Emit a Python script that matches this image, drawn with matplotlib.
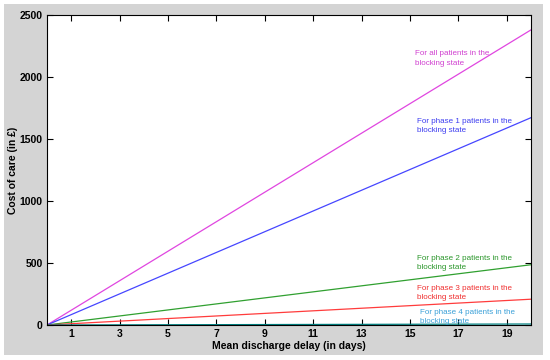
import numpy as np
import matplotlib.pyplot as plt
from matplotlib.patches import Rectangle

plt.rcParams['font.family'] = ['Liberation Sans', 'DejaVu Sans']

# mean discharge delay (days) and cost of care (GBP)
delay = [0, 20]
cost_all = [0, 2380]
cost_phase1 = [0, 1672]
cost_phase2 = [0, 486]
cost_phase3 = [0, 208]
cost_phase4 = [0, 8]

series = [
    (cost_all, '#e046e0', 'For all patients in the\nblocking state', '#d040d0', (15.2, 2215)),
    (cost_phase1, '#4646ff', 'For phase 1 patients in the\nblocking state', '#3c3cf0', (15.3, 1670)),
    (cost_phase2, '#30a030', 'For phase 2 patients in the\nblocking state', '#2a962a', (15.3, 565)),
    (cost_phase3, '#ff3c3c', 'For phase 3 patients in the\nblocking state', '#f03030', (15.3, 325)),
    (cost_phase4, '#008080', 'For phase 4 patients in the\nblocking state', '#3aa0d8', (15.4, 130)),
]

fig = plt.figure(figsize=(5.5, 3.6), dpi=100)
fig.patch.set_facecolor('white')
fig.patches.append(Rectangle((4/550, 5/360), 539/550, 351/360, transform=fig.transFigure,
                             facecolor='#d4d4d4', edgecolor='none', zorder=-10))

ax = fig.add_axes([47/550, 1 - 325/360, 484/550, 310/360])
ax.set_facecolor('white')

for y, col, label, tcol, pos in series:
    ax.plot(delay, y, color=col, lw=0.9)
    ax.text(pos[0], pos[1], label, color=tcol, fontsize=5.8, va='top', ha='left', linespacing=1.45)

ax.set_xlim(0, 20)
ax.set_ylim(0, 2500)
ax.set_xticks(np.arange(1, 20, 2))
ax.set_yticks(np.arange(0, 2501, 500))
ax.tick_params(direction='in', top=True, right=True, length=4, width=0.8, labelsize=7.5, pad=3)
for lab in ax.get_xticklabels() + ax.get_yticklabels():
    lab.set_fontweight('bold')
for s in ax.spines.values():
    s.set_linewidth(0.8)

ax.set_xlabel('Mean discharge delay (in days)', fontsize=7.5, fontweight='bold', labelpad=1)
ax.set_ylabel('Cost of care (in £)', fontsize=7.5, fontweight='bold', labelpad=1)

fig.savefig('out.png', dpi=100)
